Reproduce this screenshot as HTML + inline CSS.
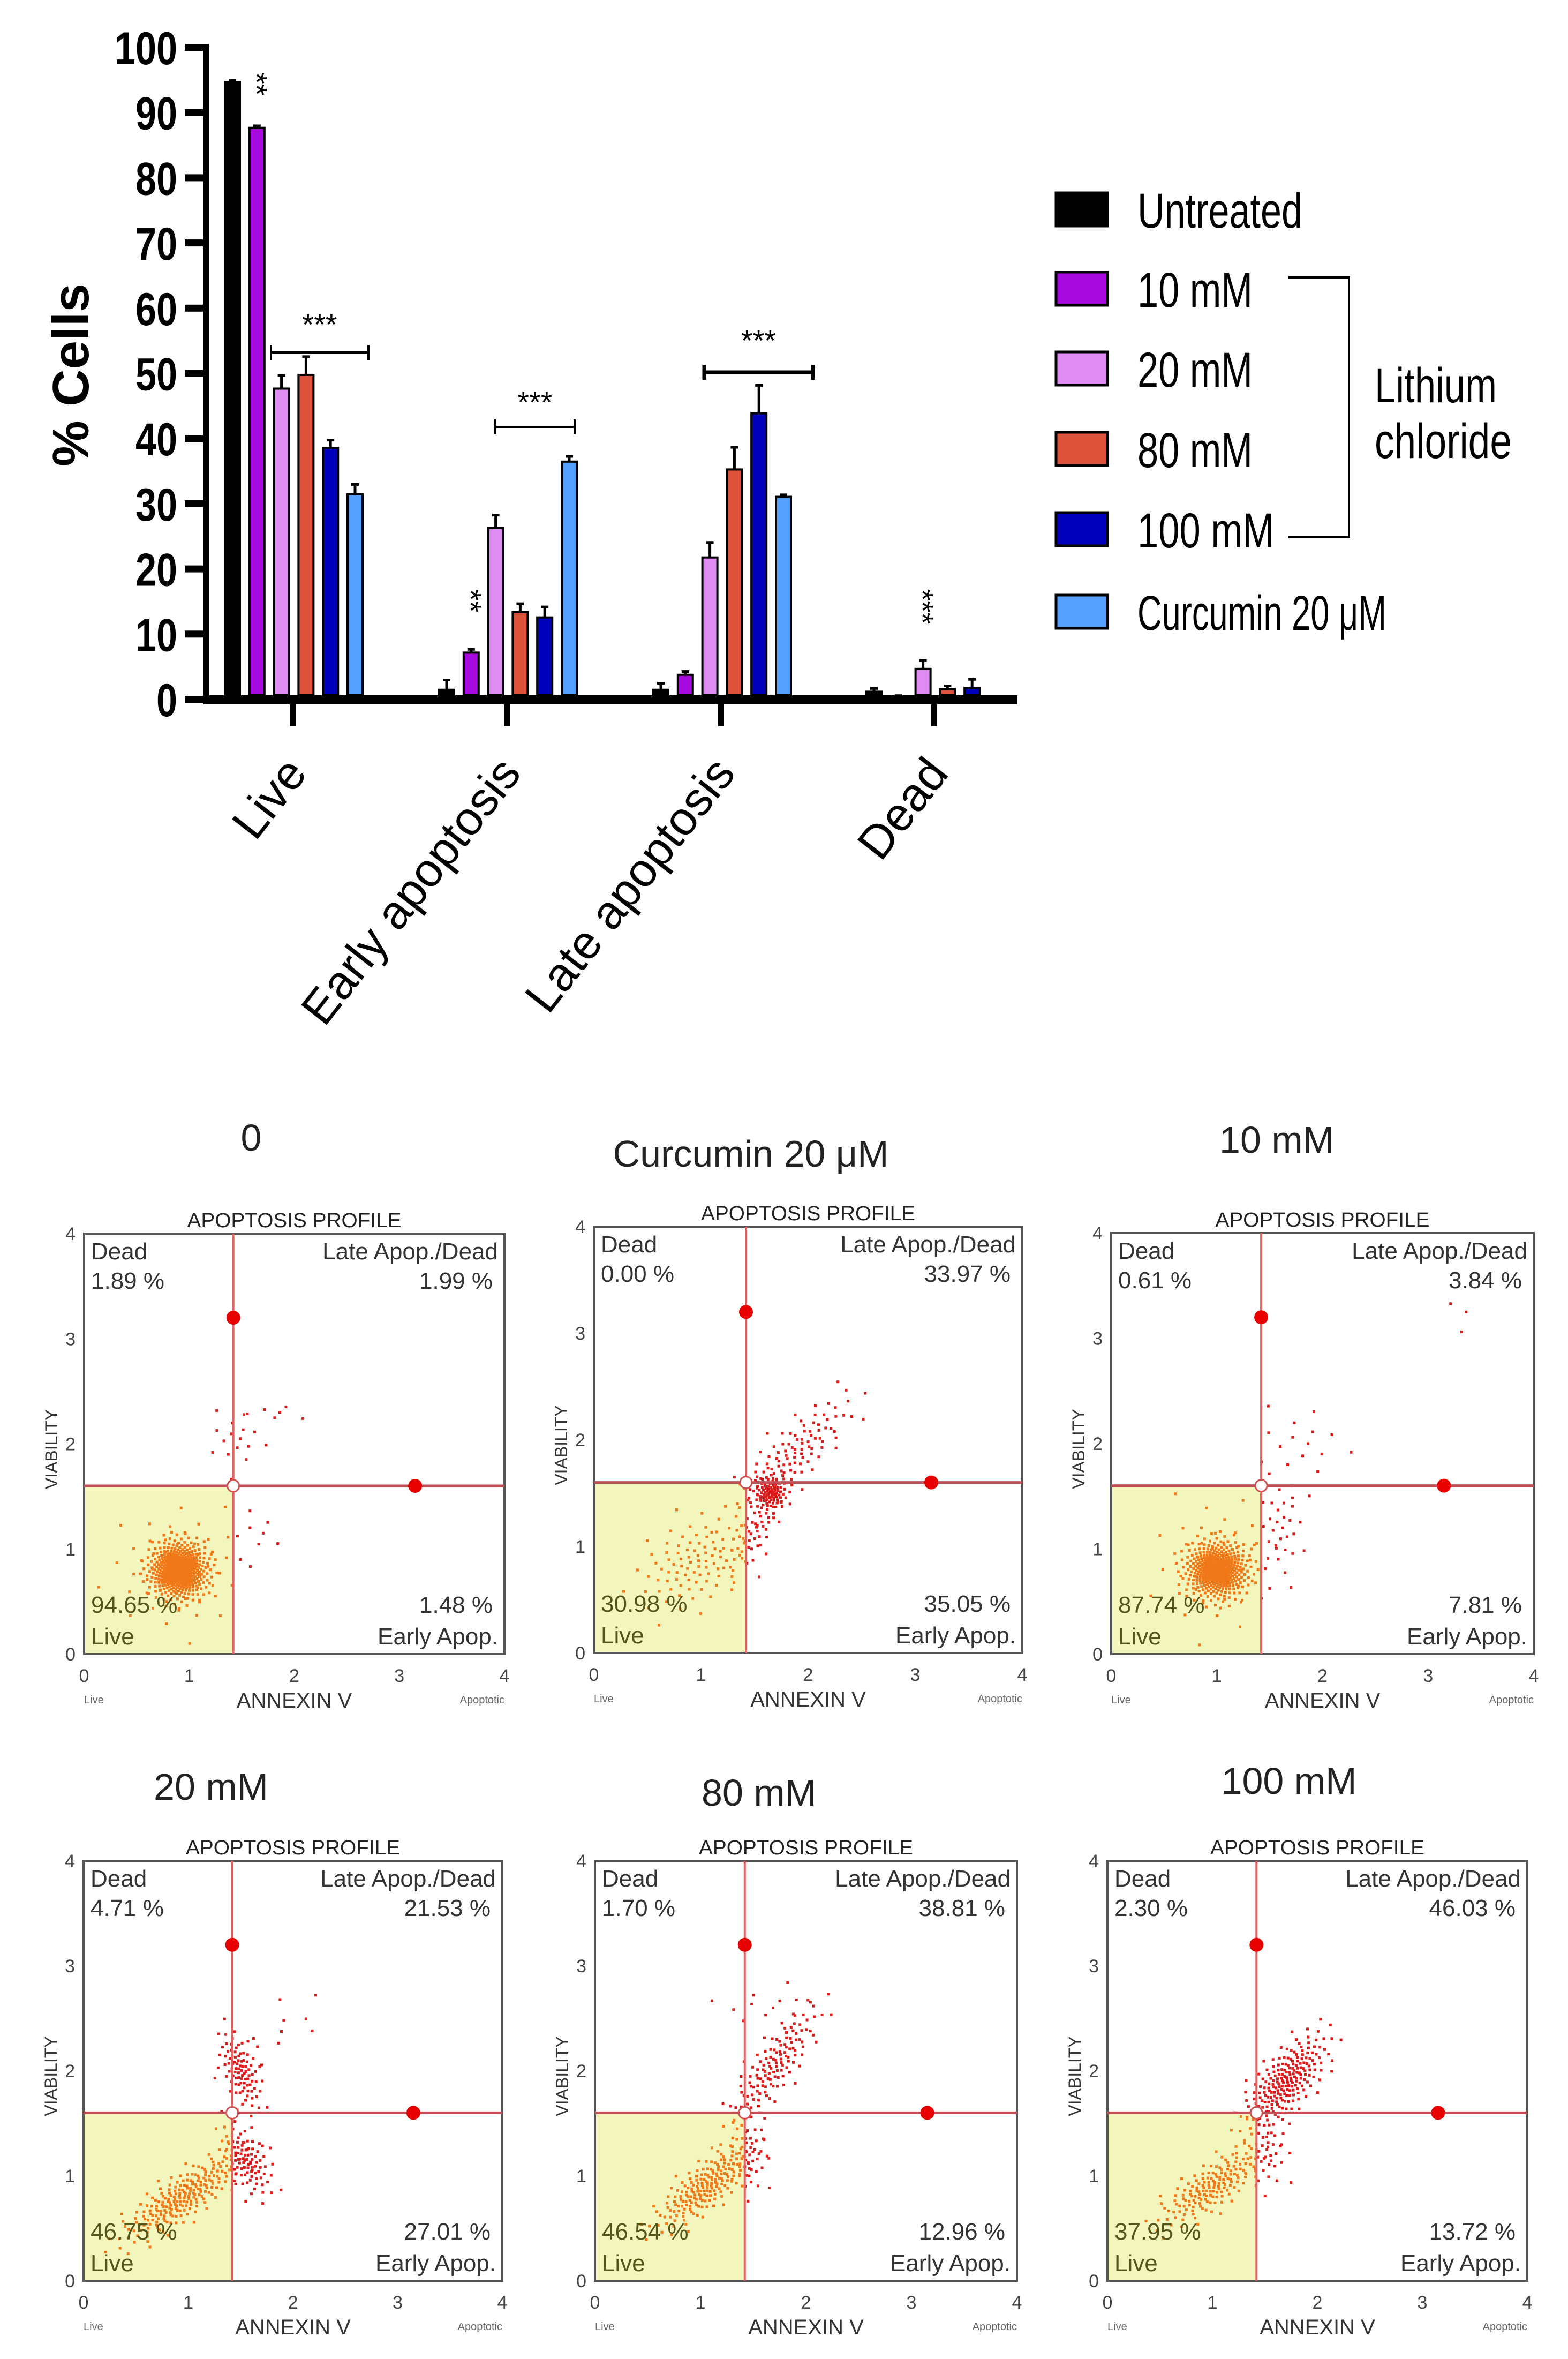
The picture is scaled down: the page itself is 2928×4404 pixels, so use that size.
<!DOCTYPE html>
<html><head><meta charset="utf-8"><title>Apoptosis chart</title>
<style>html,body{margin:0;padding:0;background:#fff}svg{display:block}</style></head>
<body>
<svg id="fig" xmlns="http://www.w3.org/2000/svg" width="2928" height="4404" viewBox="0 0 2928 4404" font-family="Liberation Sans, sans-serif"></svg>
<script>
// ---- bar chart data ----
const groups = ['Live', 'Early apoptosis', 'Late apoptosis', 'Dead'];
const seriesNames = ['Untreated', '10 mM', '20 mM', '80 mM', '100 mM', 'Curcumin 20 \u03bcM'];
const untreatedVals = [94.7, 1.5, 1.5, 1.2];
const mM10Vals = [87.7, 7.2, 3.8, 0.3];
const mM20Vals = [47.7, 26.3, 21.8, 4.7];
const mM80Vals = [49.8, 13.4, 35.3, 1.6];
const mM100Vals = [38.6, 12.6, 43.9, 1.8];
const curcuminVals = [31.5, 36.5, 31.1, 0];
const untreatedErr = [0.3, 1.5, 1.0, 0.5];
const mM10Err = [0.3, 0.5, 0.5, 0.3];
const mM20Err = [2.0, 2.0, 2.3, 1.3];
const mM80Err = [2.8, 1.3, 3.4, 0.5];
const mM100Err = [1.2, 1.6, 4.3, 1.3];
const curcuminErr = [1.5, 0.8, 0.3, 0];
const yTicks = [0, 10, 20, 30, 40, 50, 60, 70, 80, 90, 100];

// ---- flow cytometry panel data ----
const panelTitles = ['0', 'Curcumin 20 \u03bcM', '10 mM', '20 mM', '80 mM', '100 mM'];
const deadPct = ['1.89 %', '0.00 %', '0.61 %', '4.71 %', '1.70 %', '2.30 %'];
const latePct = ['1.99 %', '33.97 %', '3.84 %', '21.53 %', '38.81 %', '46.03 %'];
const livePct = ['94.65 %', '30.98 %', '87.74 %', '46.75 %', '46.54 %', '37.95 %'];
const earlyPct = ['1.48 %', '35.05 %', '7.81 %', '27.01 %', '12.96 %', '13.72 %'];
// clusters: [cx, cy, sx, sy, angleDeg, n] in axis units (0-4)
const clusters0 = [[0.9, 0.8, 0.14, 0.14, 0, 420], [0.9, 0.8, 0.3, 0.28, 0, 60], [1.45, 2.05, 0.15, 0.15, 0, 16], [1.8, 2.3, 0.15, 0.05, 0, 6], [1.65, 1.15, 0.15, 0.12, 0, 8]];
const clusters1 = [[0.95, 0.85, 0.3, 0.2, 30, 90], [1.65, 1.5, 0.08, 0.08, 45, 80], [1.85, 1.85, 0.4, 0.12, 45, 110], [1.5, 1.15, 0.25, 0.08, 60, 50]];
const clusters2 = [[1.0, 0.8, 0.15, 0.14, 0, 380], [1.0, 0.85, 0.3, 0.3, 0, 50], [1.6, 1.2, 0.12, 0.25, 0, 30], [1.8, 2.0, 0.25, 0.2, 0, 16], [3.3, 3.25, 0.1, 0.1, 0, 3]];
const clusters3 = [[0.95, 0.8, 0.35, 0.1, 35, 220], [1.55, 1.15, 0.1, 0.2, 30, 90], [1.5, 2.0, 0.08, 0.2, 20, 90], [1.8, 2.3, 0.4, 0.1, 40, 12]];
const clusters4 = [[1.05, 0.9, 0.3, 0.1, 40, 190], [1.7, 2.05, 0.35, 0.1, 55, 130], [1.45, 1.2, 0.1, 0.2, 0, 40], [1.6, 2.6, 0.3, 0.1, 0, 12]];
const clusters5 = [[1.0, 0.9, 0.3, 0.1, 35, 160], [1.7, 1.9, 0.28, 0.12, 50, 210], [1.5, 1.25, 0.12, 0.2, 0, 40]];
const panelClusters = [clusters0, clusters1, clusters2, clusters3, clusters4, clusters5];

const NS = 'http://www.w3.org/2000/svg';
const svg = document.getElementById('fig');
function mk(tag, attrs, parent) {
  const e = document.createElementNS(NS, tag);
  for (const k in attrs) e.setAttribute(k, attrs[k]);
  (parent || svg).appendChild(e);
  return e;
}
function txt(x, y, s, attrs, parent) {
  const a = Object.assign({x: x, y: y}, attrs || {});
  const e = mk('text', a, parent);
  e.textContent = s;
  return e;
}

// ---- bar chart axes ----
const y0 = 1306, pxPerUnit = 12.17;
function yScale(v) { return y0 - v * pxPerUnit; }
const groupTicks = [546, 946, 1346, 1744];
function xBar(g, i) { return groupTicks[g] - 128 + i * 45.8; }

const chart = mk('g', {});



const yAxis = mk('rect', {x: 379, y: yScale(100) - 7, width: 12, height: y0 - yScale(100) + 16, fill: '#000'}, chart);


const xAxis = mk('rect', {x: 379, y: y0 - 8, width: 1521, height: 17, fill: '#000'}, chart);



yTicks.forEach(function (t) {
  const tk = mk('rect', {x: 345, y: yScale(t) - 7, width: 36, height: 13, fill: '#000'}, chart);
  
  
  const lb = txt(331, yScale(t) + 31, String(t), {'text-anchor': 'end', 'font-size': 86, 'font-weight': 'bold', textLength: String(t).length * 39, lengthAdjust: 'spacingAndGlyphs'}, chart);
  
  
});
const yTitle = txt(0, 0, '% Cells', {'font-size': 96, 'font-weight': 'bold', 'text-anchor': 'middle', transform: 'translate(165,700) rotate(-90)'}, chart);



groups.forEach(function (g, gi) {
  const tk = mk('rect', {x: groupTicks[gi] - 5, y: y0, width: 11, height: 50, fill: '#000'}, chart);
  
  
  const lb = txt(0, 0, g, {'font-size': 88, 'text-anchor': 'end', transform: 'translate(' + (groupTicks[gi] + 30) + ',1445) rotate(-52)'}, chart);
  
  
});

const allVals = [untreatedVals, mM10Vals, mM20Vals, mM80Vals, mM100Vals, curcuminVals];
const allErr = [untreatedErr, mM10Err, mM20Err, mM80Err, mM100Err, curcuminErr];
const colors = ['#000000', '#a80ae0', '#de8cf2', '#de513a', '#0000bb', '#55a0ff'];
groups.forEach(function (g, gi) {
  allVals.forEach(function (vals, si) {
    const v = vals[gi];
    const e = allErr[si][gi];
    const x = xBar(gi, si);
    if (v > 0) {
      const bar = mk('rect', {x: x + 2, y: yScale(v), width: 28, height: y0 - 8 - yScale(v), fill: colors[si], stroke: '#000', 'stroke-width': 4}, chart);
      
      
      if (e > 0) {
        const eb = mk('path', {d: 'M' + (x + 16) + ' ' + yScale(v) + 'V' + yScale(v + e) + 'M' + (x + 9) + ' ' + yScale(v + e) + 'H' + (x + 23), stroke: '#000', 'stroke-width': 5, fill: 'none'}, chart);
        
        
      }
    }
  });
});

// significance brackets
function bracket(x1, x2, y, ty, w) {
  const b = mk('path', {d: 'M' + x1 + ' ' + (y - 14) + 'V' + (y + 14) + 'M' + x1 + ' ' + y + 'H' + x2 + 'M' + x2 + ' ' + (y - 14) + 'V' + (y + 14), stroke: '#000', 'stroke-width': w, fill: 'none'}, chart);
  
  
  const s = txt((x1 + x2) / 2, ty, '***', {'font-size': 56, 'text-anchor': 'middle'}, chart);
  
  
}
bracket(506, 688, 658, 625, 4);
bracket(925, 1073, 797, 770, 4);
bracket(1315, 1518, 695, 655, 7);
function vstars(x, yTop, s) {
  const t = txt(0, 0, s, {'font-size': 56, transform: 'translate(' + (x - 20) + ',' + yTop + ') rotate(90)'}, chart);
  
  
}
vstars(xBar(0, 1) + 16, 135, '**');
vstars(xBar(1, 1) + 16, 1100, '**');
vstars(xBar(3, 2) + 16, 1100, '***');

// legend
const legYs = [391, 539, 688, 838, 988, 1142];
const legW = [308, 215, 215, 215, 255, 465];
seriesNames.forEach(function (n, i) {
  const sw = mk('rect', {x: 1972, y: legYs[i] - 31, width: 96, height: 62, fill: colors[i], stroke: '#000', 'stroke-width': 5});
  
  
  const t = txt(2124, legYs[i] + 34, n, {'font-size': 92, textLength: legW[i], lengthAdjust: 'spacingAndGlyphs'});
  
  
});
const lb = mk('path', {d: 'M2406 518H2519V1003H2406', stroke: '#000', 'stroke-width': 4, fill: 'none'});


const l1 = txt(2567, 751, 'Lithium', {'font-size': 92, textLength: 228, lengthAdjust: 'spacingAndGlyphs'});


const l2 = txt(2567, 855, 'chloride', {'font-size': 92, textLength: 256, lengthAdjust: 'spacingAndGlyphs'});



// ---- flow panels ----
const panelBoxes = [[157, 2303, 785, 785], [1109, 2290, 800, 796], [2075, 2302, 789, 786], [156, 3474, 782, 784], [1111, 3474, 788, 784], [2068, 3474, 784, 784]];
const titlePos = [[469, 2148], [1402, 2178], [2384, 2152], [394, 3360], [1417, 3371], [2407, 3349]];
const qx = 1.42, qy = 1.6;
panelTitles.forEach(function (title, pi) {
  const b = panelBoxes[pi];
  const X = b[0], Y = b[1], W = b[2], H = b[3];
  const sx = function (v) { return X + v / 4 * W; };
  const sy = function (v) { return Y + H - v / 4 * H; };
  const g = mk('g', {});
  
  
  const tt = txt(titlePos[pi][0], titlePos[pi][1], title, {'font-size': 70, 'text-anchor': 'middle', fill: '#222'}, g);
  
  
  const live = mk('rect', {x: X, y: sy(qy), width: sx(qx) - X, height: Y + H - sy(qy), fill: '#f3f6bc'}, g);
  
  
  // points
  panelClusters[pi].forEach(function (c) {
    const a = c[4] * Math.PI / 180, n = c[5];
    for (let k = 0; k < n; k++) {
      const r = Math.min(2.6, Math.sqrt(-2 * Math.log(1 - (k + 0.5) / n)));
      const th = k * 2.39996;
      const u = r * Math.cos(th) * c[2], w = r * Math.sin(th) * c[3];
      const vx = c[0] + u * Math.cos(a) - w * Math.sin(a);
      const vy = c[1] + u * Math.sin(a) + w * Math.cos(a);
      if (vx < 0.02 || vy < 0.02 || vx > 3.98 || vy > 3.98) continue;
      const col = (vx < qx && vy < qy) ? '#f07818' : '#dd1a1a';
      const p = mk('rect', {x: sx(vx) - 2.5, y: sy(vy) - 2.5, width: 5, height: 5, fill: col}, g);
      
      
    }
  });
  const frame = mk('rect', {x: X, y: Y, width: W, height: H, fill: 'none', stroke: '#555', 'stroke-width': 4}, g);
  
  
  const vl = mk('line', {x1: sx(qx), y1: Y, x2: sx(qx), y2: Y + H, stroke: '#e06060', 'stroke-width': 4}, g);
  
  
  const hl = mk('line', {x1: X, y1: sy(qy), x2: X + W, y2: sy(qy), stroke: '#c05058', 'stroke-width': 5}, g);
  
  
  const h1 = mk('circle', {cx: sx(qx), cy: sy(3.2), r: 13, fill: '#e80000'}, g);
  
  
  const h2 = mk('circle', {cx: sx(3.15), cy: sy(qy), r: 13, fill: '#e80000'}, g);
  
  
  const h3 = mk('circle', {cx: sx(qx), cy: sy(qy), r: 11, fill: '#fff', stroke: '#d05050', 'stroke-width': 3}, g);
  
  
  const fs = 44;
  const labels = [
    [X + 13, Y + 48, 'Dead', 'start', '#333'], [X + 13, Y + 103, deadPct[pi], 'start', '#333'],
    [X + W - 12, Y + 48, 'Late Apop./Dead', 'end', '#333'], [X + W - 22, Y + 103, latePct[pi], 'end', '#333'],
    [X + 13, Y + H - 77, livePct[pi], 'start', '#55551a'], [X + 13, Y + H - 18, 'Live', 'start', '#55551a'],
    [X + W - 22, Y + H - 77, earlyPct[pi], 'end', '#333'], [X + W - 12, Y + H - 18, 'Early Apop.', 'end', '#333']
  ];
  labels.forEach(function (l) {
    const t = txt(l[0], l[1], l[2], {'font-size': fs, 'text-anchor': l[3], fill: l[4]}, g);
    
    
  });
  const ap = txt(X + W / 2, Y - 12, 'APOPTOSIS PROFILE', {'font-size': 38, 'text-anchor': 'middle', fill: '#222', textLength: 400, lengthAdjust: 'spacingAndGlyphs'}, g);
  
  
  for (let t = 0; t <= 4; t++) {
    const a1 = txt(X - 16, sy(t) + 12, String(t), {'font-size': 34, 'text-anchor': 'end', fill: '#444'}, g);
    
    
    const a2 = txt(sx(t), Y + H + 52, String(t), {'font-size': 34, 'text-anchor': 'middle', fill: '#444'}, g);
    
    
  }
  const va = txt(0, 0, 'VIABILITY', {'font-size': 32, 'text-anchor': 'middle', fill: '#333', transform: 'translate(' + (X - 50) + ',' + (Y + H / 2 + 10) + ') rotate(-90)'}, g);
  
  
  const an = txt(X + W / 2, Y + H + 100, 'ANNEXIN V', {'font-size': 40, 'text-anchor': 'middle', fill: '#333'}, g);
  
  
  const lv = txt(X, Y + H + 92, 'Live', {'font-size': 20, fill: '#666'}, g);
  
  
  const aq = txt(X + W, Y + H + 92, 'Apoptotic', {'font-size': 20, 'text-anchor': 'end', fill: '#666'}, g);
  
  
});
</script>
</body></html>
